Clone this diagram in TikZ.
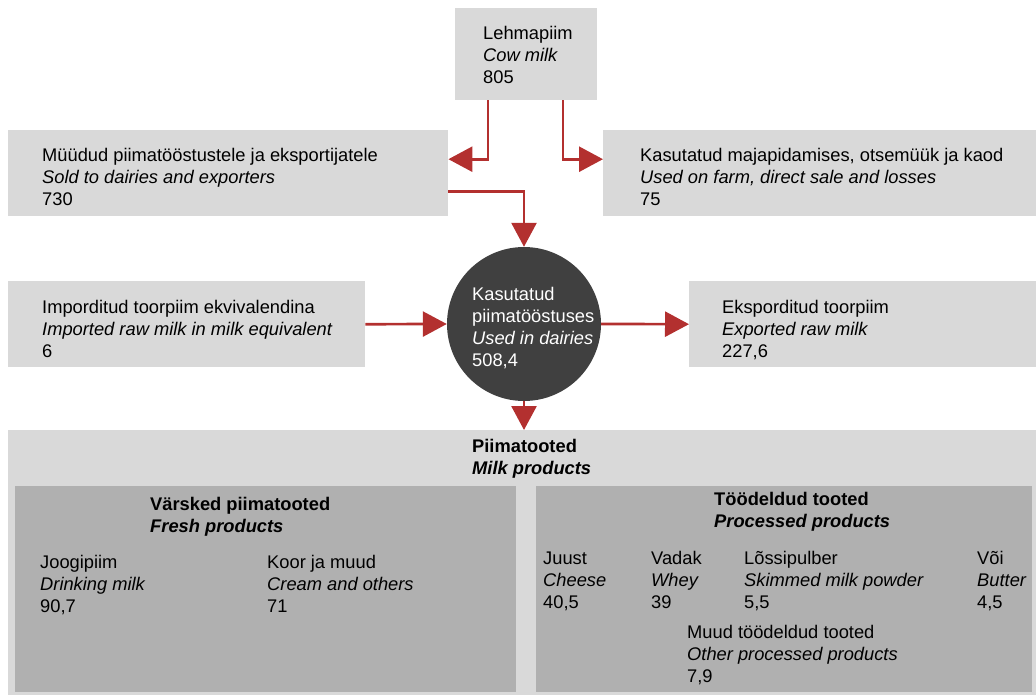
\documentclass[tikz,border=0pt]{standalone}
\usepackage{fontspec}
\setmainfont{Liberation Sans}
\usetikzlibrary{arrows.meta}
\definecolor{boxgrey}{HTML}{D9D9D9}
\definecolor{innergrey}{HTML}{B0B0B0}
\definecolor{circlegrey}{HTML}{404040}
\definecolor{arrowred}{HTML}{B3302F}
\tikzset{
  box/.style={fill=boxgrey,inner sep=0pt,anchor=north west},
  innerbox/.style={fill=innergrey,inner sep=0pt,anchor=north west},
  label/.style={align=left,anchor=base west,inner sep=0pt,font=\fontsize{18.3}{22}\selectfont},
  flow/.style={arrowred,line width=2.7pt,->}
}
\begin{document}
\begin{tikzpicture}[x=1pt,y=-1pt,>={Triangle[length=24pt,width=25pt]}]
\useasboundingbox (0,0) rectangle (1036,695);
%Draw the boxes
    \node[box,minimum width=142pt,minimum height=92pt] (cow) at (455,8) {};
    \node[box,minimum width=440pt,minimum height=86pt] (sold) at (8,130) {};
    \node[box,minimum width=433pt,minimum height=86pt] (farm) at (603,130) {};
    \node[box,minimum width=357pt,minimum height=86pt] (import) at (8,281) {};
    \node[box,minimum width=347pt,minimum height=86pt] (export) at (689,281) {};
    \node[box,minimum width=1028pt,minimum height=265pt] (products) at (8,430) {};
    \node[innerbox,minimum width=501pt,minimum height=206pt] (fresh) at (15,486) {};
    \node[innerbox,minimum width=496pt,minimum height=206pt] (processed) at (536,486) {};
%Circle for the dairies
    \node[circle,fill=circlegrey,minimum size=154pt,inner sep=0pt] (dairy) at (524,324) {};

%Texts, placed at the baseline of the last line
    \node[label] (cowtext) at (483,84) {Lehmapiim\\\textit{Cow milk}\\805};
    \node[label] (soldtext) at (42,206) {Müüdud piimatööstustele ja eksportijatele\\\textit{Sold to dairies and exporters}\\730};
    \node[label] (farmtext) at (640,206) {Kasutatud majapidamises, otsemüük ja kaod\\\textit{Used on farm, direct sale and losses}\\75};
    \node[label] (importtext) at (42,357) {Imporditud toorpiim ekvivalendina\\\textit{Imported raw milk in milk equivalent}\\6};
    \node[label] (exporttext) at (722,357) {Eksporditud toorpiim\\\textit{Exported raw milk}\\227,6};
    \node[label,text=white] (dairytext) at (472,366) {Kasutatud\\piimatööstuses\\\textit{Used in dairies}\\508,4};
    \node[label,font=\fontsize{18.3}{22}\selectfont\bfseries] (productstext) at (472,474) {Piimatooted\\\textit{Milk products}};
    \node[label,font=\fontsize{18.3}{22}\selectfont\bfseries] (freshtext) at (150,532) {Värsked piimatooted\\\textit{Fresh products}};
    \node[label,font=\fontsize{18.3}{22}\selectfont\bfseries] (processedtext) at (714,527) {Töödeldud tooted\\\textit{Processed products}};
    \node[label] (drinking) at (40,612) {Joogipiim\\\textit{Drinking milk}\\90,7};
    \node[label] (cream) at (267,612) {Koor ja muud\\\textit{Cream and others}\\71};
    \node[label] (cheese) at (543,608) {Juust\\\textit{Cheese}\\40,5};
    \node[label] (whey) at (651,608) {Vadak\\\textit{Whey}\\39};
    \node[label] (powder) at (744,608) {Lõssipulber\\\textit{Skimmed milk powder}\\5,5};
    \node[label] (butter) at (977,608) {Või\\\textit{Butter}\\4,5};
    \node[label] (other) at (687,682) {Muud töödeldud tooted\\\textit{Other processed products}\\7,9};

%Flows
    \draw[flow] ([xshift=33pt]cow.south west) |- ([yshift=14pt]sold.east);
    \draw[flow] ([xshift=108pt]cow.south west) |- ([yshift=14pt]farm.west);
    \draw[flow] ([yshift=-18pt]sold.east) -| (dairy.north);
    \draw[flow] (import.east) -- (dairy.west);
    \draw[flow] (dairy.east) -- (export.west);
    \draw[flow] (dairy.south) -- (dairy.south |- products.north);
\end{tikzpicture}
\end{document}
